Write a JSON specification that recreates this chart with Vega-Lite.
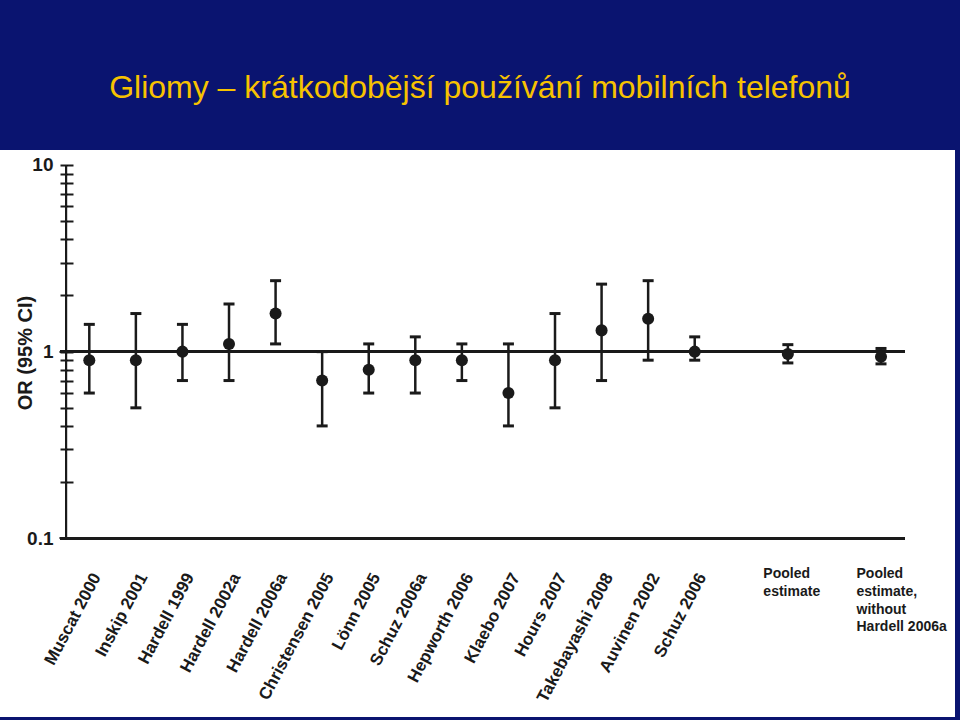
{
  "$schema": "https://vega.github.io/schema/vega-lite/v6.json",
  "width": 955,
  "height": 567,
  "autosize": {"type": "none"},
  "padding": {"left": 0, "top": 150, "right": 5, "bottom": 3},
  "background": "#0a1470",
  "view": {"fill": "white", "stroke": null},
  "title": {
    "text": "Gliomy – krátkodobější používání mobilních telefonů",
    "font": "Liberation Sans",
    "fontSize": 32,
    "fontWeight": "normal",
    "color": "#F7C200",
    "anchor": "middle",
    "frame": "group",
    "baseline": "alphabetic",
    "offset": 20,
    "dx": 2.5
  },
  "data": {
    "values": [
      {"study": "Muscat 2000", "pos": 1, "or": 0.9, "lo": 0.6, "hi": 1.4},
      {"study": "Inskip 2001", "pos": 2, "or": 0.9, "lo": 0.5, "hi": 1.6},
      {"study": "Hardell 1999", "pos": 3, "or": 1.0, "lo": 0.7, "hi": 1.4},
      {"study": "Hardell 2002a", "pos": 4, "or": 1.1, "lo": 0.7, "hi": 1.8},
      {"study": "Hardell 2006a", "pos": 5, "or": 1.6, "lo": 1.1, "hi": 2.4},
      {"study": "Christensen 2005", "pos": 6, "or": 0.7, "lo": 0.4, "hi": 1.0},
      {"study": "Lönn 2005", "pos": 7, "or": 0.8, "lo": 0.6, "hi": 1.1},
      {"study": "Schuz 2006a", "pos": 8, "or": 0.9, "lo": 0.6, "hi": 1.2},
      {"study": "Hepworth 2006", "pos": 9, "or": 0.9, "lo": 0.7, "hi": 1.1},
      {"study": "Klaebo 2007", "pos": 10, "or": 0.6, "lo": 0.4, "hi": 1.1},
      {"study": "Hours 2007", "pos": 11, "or": 0.9, "lo": 0.5, "hi": 1.6},
      {"study": "Takebayashi 2008", "pos": 12, "or": 1.3, "lo": 0.7, "hi": 2.3},
      {"study": "Auvinen 2002", "pos": 13, "or": 1.5, "lo": 0.9, "hi": 2.4},
      {"study": "Schuz 2006", "pos": 14, "or": 1.0, "lo": 0.9, "hi": 1.2},
      {"study": "Pooled estimate", "label": "Pooled\nestimate", "pos": 16, "or": 0.97, "lo": 0.87, "hi": 1.09},
      {"study": "Pooled estimate, without Hardell 2006a", "label": "Pooled\nestimate,\nwithout\nHardell 2006a", "pos": 18, "or": 0.94, "lo": 0.86, "hi": 1.04}
    ]
  },
  "layer": [
    {
      "mark": {"type": "rule", "color": "#1a1a1a", "strokeWidth": 2.5},
      "encoding": {
        "x": {
          "field": "pos", "type": "quantitative",
          "scale": {"domain": [-0.9175, 19.589], "nice": false, "zero": false},
          "axis": {
            "values": [1, 2, 3, 4, 5, 6, 7, 8, 9, 10, 11, 12, 13, 14],
            "labelExpr": "['', 'Muscat 2000', 'Inskip 2001', 'Hardell 1999', 'Hardell 2002a', 'Hardell 2006a', 'Christensen 2005', 'Lönn 2005', 'Schuz 2006a', 'Hepworth 2006', 'Klaebo 2007', 'Hours 2007', 'Takebayashi 2008', 'Auvinen 2002', 'Schuz 2006'][datum.value]",
            "title": null,
            "domain": false,
            "ticks": false,
            "tickSize": 0,
            "grid": false,
            "offset": -178.7,
            "labelPadding": 32,
            "labelAngle": -62,
            "labelAlign": "right",
            "labelBaseline": "top",
            "labelFont": "Liberation Sans",
            "labelFontSize": 17,
            "labelFontWeight": "bold",
            "labelColor": "#1a1a1a",
            "labelOverlap": false,
            "labelBound": false,
            "labelFlush": false
          }
        },
        "y": {
          "field": "lo", "type": "quantitative",
          "scale": {"type": "log", "domain": [0.011029, 12.032], "nice": false},
          "axis": {
            "values": [0.1, 0.2, 0.3, 0.4, 0.5, 0.6, 0.7, 0.8, 0.9, 1, 2, 3, 4, 5, 6, 7, 8, 9, 10],
            "labelExpr": "datum.value == 10 ? '10' : datum.value == 1 ? '1' : datum.value == 0.1 ? '0.1' : ''",
            "offset": -73,
            "domain": false,
            "grid": false,
            "tickSize": 13,
            "tickWidth": 2,
            "tickColor": "#1a1a1a",
            "labelPadding": 7,
            "labelFont": "Liberation Sans",
            "labelFontSize": 19,
            "labelFontWeight": "bold",
            "labelColor": "#1a1a1a",
            "labelBaseline": "middle",
            "labelOverlap": false,
            "labelBound": false,
            "labelFlush": false,
            "title": "OR (95% CI)",
            "titleFont": "Liberation Sans",
            "titleFontSize": 20,
            "titleFontWeight": "bold",
            "titleColor": "#1a1a1a",
            "titleAngle": -90,
            "titleX": -48,
            "titleY": 202.5,
            "titleAlign": "center",
            "titleBaseline": "middle"
          }
        },
        "y2": {"field": "hi"}
      }
    },
    {
      "mark": {"type": "rule", "color": "#1a1a1a", "strokeWidth": 2},
      "encoding": {
        "x": {"datum": 0.5, "type": "quantitative", "scale": {"domain": [-0.9175, 19.589], "nice": false, "zero": false}},
        "y": {"datum": 0.1, "type": "quantitative", "scale": {"type": "log", "domain": [0.011029, 12.032], "nice": false}},
        "y2": {"datum": 10}
      }
    },
    {
      "mark": {"type": "rule", "color": "#1a1a1a", "strokeWidth": 2},
      "encoding": {
        "x": {"datum": 0.37, "type": "quantitative", "scale": {"domain": [-0.9175, 19.589], "nice": false, "zero": false}},
        "x2": {"datum": 18.51},
        "y": {"datum": 1, "type": "quantitative", "scale": {"type": "log", "domain": [0.011029, 12.032], "nice": false}}
      }
    },
    {
      "mark": {"type": "rule", "color": "#1a1a1a", "strokeWidth": 2.5},
      "encoding": {
        "x": {"datum": 0.37, "type": "quantitative", "scale": {"domain": [-0.9175, 19.589], "nice": false, "zero": false}},
        "x2": {"datum": 18.51},
        "y": {"datum": 0.1, "type": "quantitative", "scale": {"type": "log", "domain": [0.011029, 12.032], "nice": false}}
      }
    },
    {
      "mark": {"type": "tick", "orient": "horizontal", "color": "#1a1a1a", "size": 11, "thickness": 3, "opacity": 1},
      "encoding": {
        "x": {"field": "pos", "type": "quantitative", "scale": {"domain": [-0.9175, 19.589], "nice": false, "zero": false}},
        "y": {"field": "lo", "type": "quantitative", "scale": {"type": "log", "domain": [0.011029, 12.032], "nice": false}}
      }
    },
    {
      "mark": {"type": "tick", "orient": "horizontal", "color": "#1a1a1a", "size": 11, "thickness": 3, "opacity": 1},
      "encoding": {
        "x": {"field": "pos", "type": "quantitative", "scale": {"domain": [-0.9175, 19.589], "nice": false, "zero": false}},
        "y": {"field": "hi", "type": "quantitative", "scale": {"type": "log", "domain": [0.011029, 12.032], "nice": false}}
      }
    },
    {
      "mark": {"type": "point", "filled": true, "shape": "circle", "color": "#1a1a1a", "size": 145, "opacity": 1},
      "encoding": {
        "x": {"field": "pos", "type": "quantitative", "scale": {"domain": [-0.9175, 19.589], "nice": false, "zero": false}},
        "y": {"field": "or", "type": "quantitative", "scale": {"type": "log", "domain": [0.011029, 12.032], "nice": false}}
      }
    },
    {
      "transform": [{"filter": "datum.pos > 15"}],
      "mark": {"type": "text", "align": "left", "baseline": "top", "dx": -24.5, "dy": 29, "font": "Liberation Sans", "fontSize": 14, "fontWeight": "bold", "color": "#1a1a1a", "lineHeight": 17.7, "lineBreak": "\n"},
      "encoding": {
        "x": {"field": "pos", "type": "quantitative", "scale": {"domain": [-0.9175, 19.589], "nice": false, "zero": false}},
        "y": {"datum": 0.1, "type": "quantitative", "scale": {"type": "log", "domain": [0.011029, 12.032], "nice": false}},
        "text": {"field": "label", "type": "nominal"}
      }
    }
  ]
}
